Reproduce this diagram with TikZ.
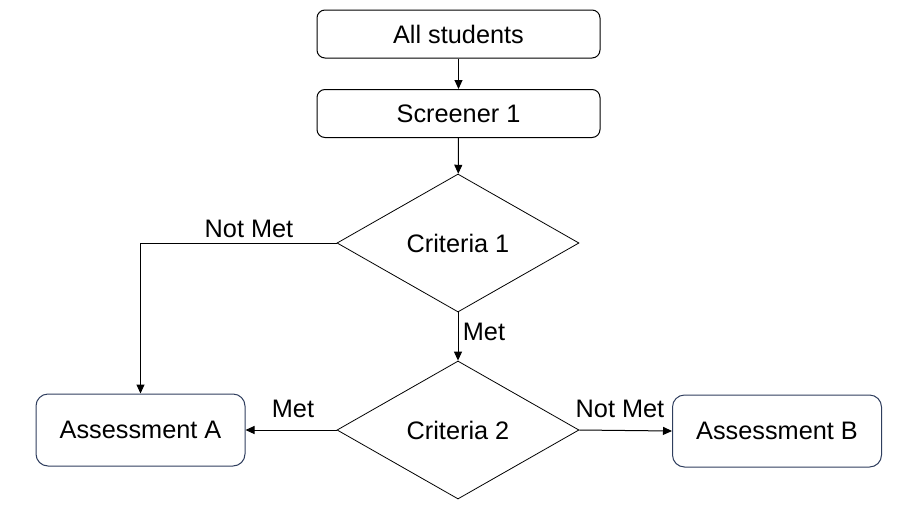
\documentclass[tikz,border=0pt]{standalone}
\usepackage{fontspec}
\setmainfont{Liberation Sans}
\usetikzlibrary{shapes.geometric,arrows.meta}
\definecolor{boxblue}{HTML}{2F3E5E}
\begin{document}
\begin{tikzpicture}[x=1pt,y=-1pt,
  font=\fontsize{25.3}{30}\selectfont,
  topbox/.style={draw=black,line width=1pt,rounded corners=8pt,minimum width=283pt,minimum height=48pt,inner sep=0pt},
  assess/.style={draw=boxblue,line width=1pt,rounded corners=12pt,minimum width=209pt,minimum height=72pt,inner sep=0pt},
  decide/.style={draw=black,line width=0.8pt,shape=diamond,minimum width=242pt,minimum height=138pt,inner sep=0pt},
  link/.style={draw=black,line width=1pt,-{Triangle[length=9pt,width=8pt]}},
  lbl/.style={inner sep=0pt}]
\useasboundingbox (0,0) rectangle (905,512);
\node[topbox] (all) at (458.5,34) {All students};
\node[topbox] (scr) at (458.5,113.5) {Screener 1};
\node[decide] (c1) at (458,243) {Criteria 1};
\node[decide] (c2) at (458,430) {Criteria 2};
\node[assess] (a) at (140.5,430) {Assessment A};
\node[assess] (b) at (777,431) {Assessment B};
\draw[link] (all) -- (scr);
\draw[link] (scr) -- (c1);
\draw[link] (c1) -- (c2);
\draw[link] (c1.west) -| (a.north);
\draw[link] (c2.west) -- (a.east);
\draw[link] (c2.east) -- (b.west);
\node[lbl] (l1) at (249,229) {Not Met};
\node[lbl] (l2) at (484,332) {Met};
\node[lbl] (l3) at (293,409) {Met};
\node[lbl] (l4) at (620,409) {Not Met};
\end{tikzpicture}
\end{document}
